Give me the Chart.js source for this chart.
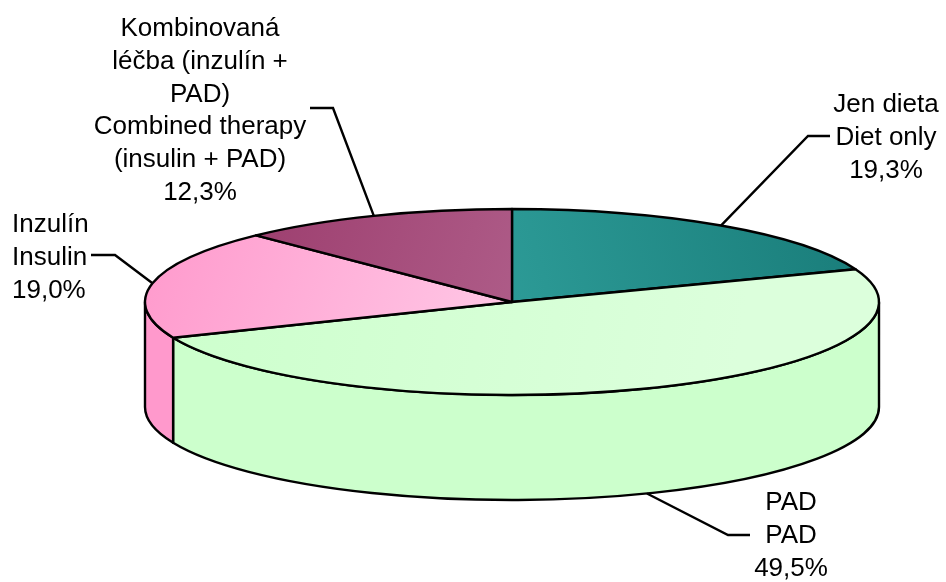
<!DOCTYPE html>
<html>
<head>
<meta charset="utf-8">
<script src="https://cdn.jsdelivr.net/npm/chart.js@4.4.0/dist/chart.umd.min.js"></script>
<style>
html, body { margin: 0; padding: 0; background: #fff; }
canvas { display: block; }
</style>
</head>
<body>
<canvas id="pieChart" width="946" height="582"></canvas>
<script>
// data
const categoriesCz = [['Jen dieta'], ['PAD'], ['Inzulín'], ['Kombinovaná', 'léčba (inzulín +', 'PAD)']];
const categoriesEn = [['Diet only'], ['PAD'], ['Insulin'], ['Combined therapy', '(insulin + PAD)']];
const shares = [19.3, 49.5, 19.0, 12.3];

// styles
const topColors = [['#2c9a96', '#1a7e7b'], ['#ccffcc', '#dcffdc'], ['#ff99cc', '#ffc8e6'], ['#973466', '#ae5c88']];
const sideColors = ['#1f8581', '#ccffcc', '#ff99cc', '#993366'];
const depth = 105;

// label placement: anchor x, first baseline y, align, elbow of the leader line
const labelPos = [
    { x: 886, y: 112, align: 'center', elbow: [[808, 136], [830, 136]] },
    { x: 791, y: 510, align: 'center', elbow: [[728, 535], [750, 535]] },
    { x: 12, y: 232, align: 'left', elbow: [[115, 255], [91, 255]] },
    { x: 200, y: 36, align: 'center', elbow: [[333, 108], [310, 108]] }
];

function gradFor(ctx, i, cx, cy, rx, ry) {
    let g;
    if (i === 0) g = ctx.createLinearGradient(cx, cy, cx + rx * 0.9, cy - ry);
    else if (i === 1) g = ctx.createLinearGradient(cx - rx, cy, cx + rx * 0.6, cy + ry);
    else g = ctx.createLinearGradient(cx - rx, cy - ry, cx, cy + ry * 0.3);
    g.addColorStop(0, topColors[i][0]);
    g.addColorStop(1, topColors[i][1]);
    return g;
}

const pie3d = {
    id: 'pie3d',
    beforeDatasetsDraw(chart) {
        const ctx = chart.ctx;
        const area = chart.chartArea;
        const meta = chart.getDatasetMeta(0);
        const cx = (area.left + area.right) / 2, cy = (area.top + area.bottom) / 2;
        const rx = (area.right - area.left) / 2, ry = (area.bottom - area.top) / 2;
        ctx.save();
        ctx.lineWidth = 2.4;
        ctx.strokeStyle = '#000';
        ctx.lineJoin = 'round';

        // side walls, only the front half is visible
        meta.data.forEach((arc, i) => {
            [0, 2 * Math.PI].forEach(k => {
                const s = Math.max(arc.startAngle, k), e = Math.min(arc.endAngle, Math.PI + k);
                if (e <= s) return;
                ctx.beginPath();
                ctx.ellipse(cx, cy, rx, ry, 0, s, e);
                ctx.lineTo(cx + rx * Math.cos(e), cy + depth + ry * Math.sin(e));
                ctx.ellipse(cx, cy + depth, rx, ry, 0, e, s, true);
                ctx.closePath();
                ctx.fillStyle = sideColors[i];
                ctx.fill();
                ctx.stroke();
            });
        });

        // top faces
        meta.data.forEach((arc, i) => {
            ctx.beginPath();
            ctx.moveTo(cx, cy);
            ctx.ellipse(cx, cy, rx, ry, 0, arc.startAngle, arc.endAngle);
            ctx.closePath();
            ctx.fillStyle = gradFor(ctx, i, cx, cy, rx, ry);
            ctx.fill();
            ctx.stroke();
        });
        ctx.restore();
        return false;
    },
    afterDraw(chart) {
        const ctx = chart.ctx;
        const area = chart.chartArea;
        const meta = chart.getDatasetMeta(0);
        const cx = (area.left + area.right) / 2, cy = (area.top + area.bottom) / 2;
        const rx = (area.right - area.left) / 2, ry = (area.bottom - area.top) / 2;
        ctx.save();
        ctx.lineWidth = 2.4;
        ctx.strokeStyle = '#000';
        ctx.fillStyle = '#000';
        ctx.font = "26px 'Liberation Sans', Arial, sans-serif";
        ctx.textBaseline = 'alphabetic';
        meta.data.forEach((arc, i) => {
            const mid = (arc.startAngle + arc.endAngle) / 2;
            const m = ((mid % (2 * Math.PI)) + 2 * Math.PI) % (2 * Math.PI);
            const front = m > 0 && m < Math.PI;
            const sx = cx + rx * Math.cos(mid);
            const sy = cy + (front ? depth : 0) + ry * Math.sin(mid);
            const p = labelPos[i];
            ctx.beginPath();
            ctx.moveTo(sx, sy);
            ctx.lineTo(p.elbow[0][0], p.elbow[0][1]);
            ctx.lineTo(p.elbow[1][0], p.elbow[1][1]);
            ctx.stroke();

            const lines = categoriesCz[i].concat(categoriesEn[i], [shares[i].toFixed(1).replace('.', ',') + '%']);
            ctx.textAlign = p.align;
            lines.forEach((t, j) => ctx.fillText(t, p.x, p.y + j * 32.8));
        });
        ctx.restore();
    }
};

new Chart(document.getElementById('pieChart'), {
    type: 'pie',
    data: {
        labels: categoriesEn.map(l => l.join(' ')),
        datasets: [{
            data: shares,
            backgroundColor: sideColors,
            borderWidth: 0
        }]
    },
    options: {
        responsive: false,
        animation: false,
        layout: { padding: { left: 145, right: 67, top: 209, bottom: 187 } },
        plugins: {
            legend: { display: false },
            tooltip: { enabled: false }
        }
    },
    plugins: [pie3d]
});
</script>
</body>
</html>
